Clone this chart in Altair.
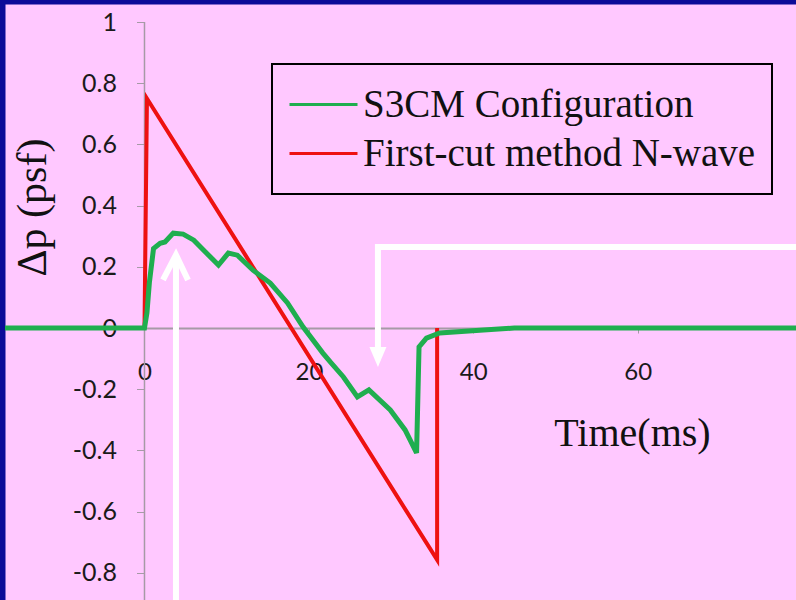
import altair as alt
import pandas as pd

# ---------------- data ----------------
series_names = ["S3CM Configuration", "First-cut method N-wave"]
series_colors = ["#1fae4f", "#ee1111"]

green_t = [-17.0, 0.0, 0.3, 0.6, 1.1, 1.9, 2.5, 3.5, 4.7, 6.0, 7.2, 9.0, 10.2,
           11.3, 13.2, 15.3, 17.4, 19.3, 21.7, 22.6, 24.2, 25.9, 27.3, 29.9,
           31.7, 33.1, 33.4, 34.3, 35.9, 40.8, 45.0, 80.0]
green_p = [0.0, 0.0, 0.05, 0.15, 0.26, 0.277, 0.281, 0.31, 0.307, 0.287, 0.254,
           0.206, 0.245, 0.238, 0.189, 0.147, 0.082, 0.003, -0.082, -0.111,
           -0.16, -0.225, -0.202, -0.268, -0.333, -0.408, -0.062, -0.033,
           -0.016, -0.007, 0.0, 0.0]

red_t = [0.0, 0.3, 35.6, 35.6]
red_p = [0.0, 0.75, -0.758, 0.0]

x_ticks = [0, 20, 40, 60, 80]
y_ticks = [-0.8, -0.6, -0.4, -0.2, 0, 0.2, 0.4, 0.6, 0.8, 1]

x_domain = [-16.97, 79.26]
y_domain = [-0.889, 1.059]

# white annotation arrows (data units): segment id, t, p
arrow_seg = ["up", "up", "head", "head", "head", "bracket", "bracket", "bracket"]
arrow_t = [3.83, 3.83, 2.25, 3.83, 5.29, 80.0, 28.4, 28.4]
arrow_p = [-0.95, 0.235, 0.157, 0.239, 0.157, 0.265, 0.265, -0.07]
arrowhead_t = [28.4]
arrowhead_p = [-0.095]

# y-axis line
axis_line_t = [0, 0]
axis_line_p = [1, -0.95]

# ---------------- tables ----------------
green_df = pd.DataFrame({"t": green_t, "p": green_p, "i": range(len(green_t)),
                         "series": series_names[0]})
red_df = pd.DataFrame({"t": red_t, "p": red_p, "i": range(len(red_t)),
                       "series": series_names[1]})
arrow_df = pd.DataFrame({"t": arrow_t, "p": arrow_p, "seg": arrow_seg,
                         "i": range(len(arrow_t))})
head_df = pd.DataFrame({"t": arrowhead_t, "p": arrowhead_p})
axis_df = pd.DataFrame({"t": axis_line_t, "p": axis_line_p, "i": [0, 1]})

serif = "Liberation Serif"
sans = "Lato"

x_enc = alt.X(
    "t:Q",
    scale=alt.Scale(domain=x_domain, nice=False, zero=False),
    axis=alt.Axis(
        values=x_ticks, title="Time(ms)", offset=-272, grid=False,
        domainColor="#a69aa6", domainWidth=2, tickColor="#a69aa6", tickSize=5,
        labelPadding=27, labelFont=sans, labelFontSize=24, labelColor="#1a1a1a",
        labelFlush=False, labelOverlap=False,
        titleFont=serif, titleFontSize=40, titleFontWeight="normal",
        titleColor="#111111", titleX=627, titleY=117,
        titleBaseline="alphabetic", titleAlign="center",
    ),
)
y_enc = alt.Y(
    "p:Q",
    scale=alt.Scale(domain=y_domain, nice=False, zero=False),
    axis=alt.Axis(
        values=y_ticks, title="Δp (psf)", offset=-139.5, grid=False, domain=False,
        tickColor="#a69aa6", tickSize=8, labelPadding=20,
        labelFont=sans, labelFontSize=25, labelColor="#1a1a1a",
        labelExpr="'' + datum.value", labelFlush=False, labelOverlap=False,
        titleFont=serif, titleFontSize=42, titleFontWeight="normal",
        titleColor="#111111", titleX=-112.5, titleY=203, titleAngle=270,
        titleBaseline="middle", titleAlign="center",
    ),
)

color_enc = alt.Color(
    "series:N",
    scale=alt.Scale(domain=series_names, range=series_colors),
    legend=alt.Legend(
        orient="none", legendX=267, legendY=60, title=None,
        symbolType="stroke", symbolSize=4624, symbolStrokeWidth=3,
        labelFont=serif, labelFontSize=39, labelColor="#111111", labelLimit=700,
        labelOffset=4, padding=16, rowPadding=0, clipHeight=49,
        strokeColor="#000000",
    ),
)

axis_rule = alt.Chart(axis_df).mark_line(color="#a69aa6", strokeWidth=1.5, clip=True).encode(
    x=x_enc, y=y_enc, order="i:Q")

red_line = alt.Chart(red_df).mark_line(strokeWidth=4, clip=True).encode(
    x=x_enc, y=y_enc, color=color_enc, order="i:Q")

green_line = alt.Chart(green_df).mark_line(strokeWidth=5, clip=True).encode(
    x=x_enc, y=y_enc, color=color_enc, order="i:Q")

arrows = alt.Chart(arrow_df).mark_line(
    color="white", strokeWidth=6, strokeJoin="miter", clip=True
).encode(x=x_enc, y=y_enc, detail="seg:N", order="i:Q")

head = alt.Chart(head_df).mark_point(
    shape="M-0.85,-1L0.85,-1L0,1Z", filled=True, color="white", opacity=1,
    size=400, strokeWidth=0
).encode(x=x_enc, y=y_enc)

chart = alt.layer(axis_rule, red_line, green_line, arrows, head).properties(
    width=791, height=596,
    padding={"left": 5, "top": 4, "right": 0, "bottom": 0},
    autosize=alt.AutoSizeParams(type="none"),
    background="#0b0b98",
).configure_view(fill="#ffc8ff", stroke="transparent").configure_legend(strokeWidth=2)

chart.save("out.html", embed_options={"renderer": "svg", "actions": False})
